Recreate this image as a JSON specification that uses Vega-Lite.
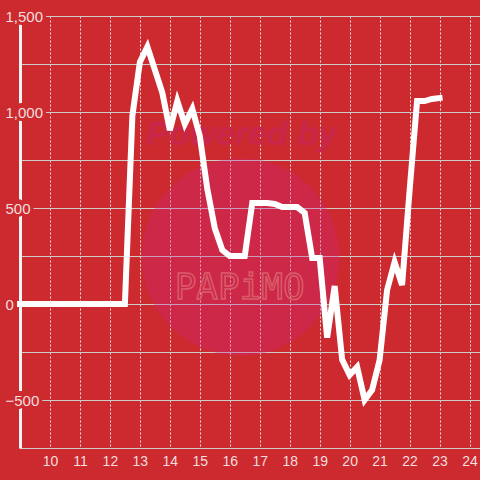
{
  "$schema": "https://vega.github.io/schema/vega-lite/v6.json",
  "width": 460,
  "height": 432,
  "autosize": {"type": "none"},
  "padding": {"left": 20, "top": 16, "right": 0, "bottom": 32},
  "background": "#cd2a2f",
  "config": {
    "view": {"stroke": null},
    "font": "Liberation Sans",
    "axis": {"labelOverlap": false}
  },
  "datasets": {
    "power": [
      {"h": 9.0, "v": 0}, {"h": 9.25, "v": 0}, {"h": 9.5, "v": 0}, {"h": 9.75, "v": 0},
      {"h": 10.0, "v": 0}, {"h": 10.25, "v": 0}, {"h": 10.5, "v": 0}, {"h": 10.75, "v": 0},
      {"h": 11.0, "v": 0}, {"h": 11.25, "v": 0}, {"h": 11.5, "v": 0}, {"h": 11.75, "v": 0},
      {"h": 12.0, "v": 0}, {"h": 12.25, "v": 0}, {"h": 12.5, "v": 0}, {"h": 12.75, "v": 980},
      {"h": 13.0, "v": 1260}, {"h": 13.25, "v": 1340}, {"h": 13.5, "v": 1220}, {"h": 13.75, "v": 1100},
      {"h": 14.0, "v": 905}, {"h": 14.25, "v": 1057}, {"h": 14.5, "v": 937}, {"h": 14.75, "v": 1016},
      {"h": 15.0, "v": 875}, {"h": 15.25, "v": 600}, {"h": 15.5, "v": 395}, {"h": 15.75, "v": 281},
      {"h": 16.0, "v": 250}, {"h": 16.25, "v": 250}, {"h": 16.5, "v": 250}, {"h": 16.75, "v": 526},
      {"h": 17.0, "v": 526}, {"h": 17.25, "v": 526}, {"h": 17.5, "v": 521}, {"h": 17.75, "v": 505},
      {"h": 18.0, "v": 505}, {"h": 18.25, "v": 505}, {"h": 18.5, "v": 474}, {"h": 18.75, "v": 240},
      {"h": 19.0, "v": 240}, {"h": 19.25, "v": -175}, {"h": 19.5, "v": 94}, {"h": 19.75, "v": -290},
      {"h": 20.0, "v": -370}, {"h": 20.25, "v": -328}, {"h": 20.5, "v": -500}, {"h": 20.75, "v": -448},
      {"h": 21.0, "v": -292}, {"h": 21.25, "v": 73}, {"h": 21.5, "v": 219}, {"h": 21.75, "v": 99},
      {"h": 22.0, "v": 590}, {"h": 22.25, "v": 1057}, {"h": 22.5, "v": 1057}, {"h": 22.75, "v": 1068},
      {"h": 23.0, "v": 1073}
    ],
    "ylabels": [{"v": 1500}, {"v": 1000}, {"v": 500}, {"v": 0}, {"v": -500}],
    "circle": [{"h": 16.36, "v": 245}],
    "powered": [{"h": 16.4, "v": 880, "t": "Powered by"}],
    "brand": [{"h": 16.33, "v": 83, "t": "PAPiMO"}]
  },
  "resolve": {"axis": {"y": "independent"}},
  "layer": [
    {
      "data": {"name": "circle"},
      "mark": {"type": "point", "filled": true, "shape": "circle", "size": 39000, "color": "#cd2385", "opacity": 0.3},
      "encoding": {
        "x": {"field": "h", "type": "quantitative", "scale": {"domain": [9, 24.35], "nice": false, "zero": false},
          "axis": {"orient": "bottom", "values": [10, 11, 12, 13, 14, 15, 16, 17, 18, 19, 20, 21, 22, 23, 24], "format": "d", "grid": true, "gridDash": [2, 2], "gridColor": "#e6e6e6", "gridWidth": 1, "domain": true, "domainColor": "#cccccc", "domainWidth": 1, "ticks": false, "tickSize": 0, "labelFontSize": 14, "labelColor": "#f3dede", "labelPadding": 6, "labelOverlap": false, "labelBound": false, "labelFlush": false, "title": null}},
        "y": {"field": "v", "type": "quantitative", "scale": {"domain": [-750, 1500], "nice": false, "zero": false}, "axis": null}
      }
    },
    {
      "data": {"name": "powered"},
      "mark": {"type": "text", "font": "Liberation Sans", "fontSize": 34, "fontWeight": "bold", "fontStyle": "italic", "color": "#c8264a", "align": "center", "baseline": "middle"},
      "encoding": {
        "x": {"field": "h", "type": "quantitative", "scale": {"domain": [9, 24.35], "nice": false, "zero": false},
          "axis": {"orient": "bottom", "values": [10, 11, 12, 13, 14, 15, 16, 17, 18, 19, 20, 21, 22, 23, 24], "format": "d", "grid": true, "gridDash": [2, 2], "gridColor": "#e6e6e6", "gridWidth": 1, "domain": true, "domainColor": "#cccccc", "domainWidth": 1, "ticks": false, "tickSize": 0, "labelFontSize": 14, "labelColor": "#f3dede", "labelPadding": 6, "labelOverlap": false, "labelBound": false, "labelFlush": false, "title": null}},
        "y": {"field": "v", "type": "quantitative", "scale": {"domain": [-750, 1500], "nice": false, "zero": false}, "axis": null},
        "text": {"field": "t"}
      }
    },
    {
      "data": {"name": "brand"},
      "mark": {"type": "text", "font": "DejaVu Sans Mono", "fontSize": 36, "fillOpacity": 0, "stroke": "#d95c68", "strokeWidth": 1.5, "align": "center", "baseline": "middle"},
      "encoding": {
        "x": {"field": "h", "type": "quantitative", "scale": {"domain": [9, 24.35], "nice": false, "zero": false},
          "axis": {"orient": "bottom", "values": [10, 11, 12, 13, 14, 15, 16, 17, 18, 19, 20, 21, 22, 23, 24], "format": "d", "grid": true, "gridDash": [2, 2], "gridColor": "#e6e6e6", "gridWidth": 1, "domain": true, "domainColor": "#cccccc", "domainWidth": 1, "ticks": false, "tickSize": 0, "labelFontSize": 14, "labelColor": "#f3dede", "labelPadding": 6, "labelOverlap": false, "labelBound": false, "labelFlush": false, "title": null}},
        "y": {"field": "v", "type": "quantitative", "scale": {"domain": [-750, 1500], "nice": false, "zero": false}, "axis": null},
        "text": {"field": "t"}
      }
    },
    {
      "mark": {"type": "rule", "color": "#f4f4f4", "strokeWidth": 3},
      "encoding": {
        "y": {"datum": 0, "type": "quantitative", "scale": {"domain": [-750, 1500], "nice": false, "zero": false}, "axis": null}
      }
    },
    {
      "data": {"name": "power"},
      "mark": {"type": "line", "color": "#ffffff", "strokeWidth": 6, "strokeCap": "square", "strokeJoin": "miter"},
      "encoding": {
        "x": {"field": "h", "type": "quantitative", "scale": {"domain": [9, 24.35], "nice": false, "zero": false},
          "axis": {"orient": "bottom", "values": [10, 11, 12, 13, 14, 15, 16, 17, 18, 19, 20, 21, 22, 23, 24], "format": "d", "grid": true, "gridDash": [2, 2], "gridColor": "#e6e6e6", "gridWidth": 1, "domain": true, "domainColor": "#cccccc", "domainWidth": 1, "ticks": false, "tickSize": 0, "labelFontSize": 14, "labelColor": "#f3dede", "labelPadding": 6, "labelOverlap": false, "labelBound": false, "labelFlush": false, "title": null}},
        "y": {
          "field": "v", "type": "quantitative",
          "scale": {"domain": [-750, 1500], "nice": false, "zero": false},
          "axis": {"orient": "left", "values": [-750, -500, -250, 0, 250, 500, 750, 1000, 1250, 1500], "grid": true, "gridColor": "#cccccc", "gridWidth": 1, "labels": false, "domain": true, "domainColor": "#f4f4f4", "domainWidth": 3, "ticks": false, "tickSize": 0, "title": null, "zindex": 0}
        }
      }
    },
    {
      "data": {"name": "ylabels"},
      "mark": {"type": "text", "fontSize": 15, "align": "left", "baseline": "middle", "dx": -15, "color": "#cd2a2f", "stroke": "#cd2a2f", "strokeWidth": 8, "strokeJoin": "round"},
      "encoding": {
        "x": {"datum": 9, "type": "quantitative", "scale": {"domain": [9, 24.35], "nice": false, "zero": false},
          "axis": {"orient": "bottom", "values": [10, 11, 12, 13, 14, 15, 16, 17, 18, 19, 20, 21, 22, 23, 24], "format": "d", "grid": true, "gridDash": [2, 2], "gridColor": "#e6e6e6", "gridWidth": 1, "domain": true, "domainColor": "#cccccc", "domainWidth": 1, "ticks": false, "tickSize": 0, "labelFontSize": 14, "labelColor": "#f3dede", "labelPadding": 6, "labelOverlap": false, "labelBound": false, "labelFlush": false, "title": null}},
        "y": {
          "field": "v", "type": "quantitative",
          "scale": {"domain": [-750, 1500], "nice": false, "zero": false},
          "axis": {"orient": "left", "values": [-500, 0, 500, 1000, 1500], "format": ",.0f", "grid": false, "domain": false, "ticks": false, "tickSize": 0, "labelAlign": "left", "labelPadding": 15, "labelBaseline": "middle", "labelFontSize": 15, "labelColor": "#f3dede", "labelOverlap": false, "title": null, "zindex": 1}
        },
        "text": {"field": "v", "type": "quantitative", "format": ",.0f"}
      }
    }
  ]
}
